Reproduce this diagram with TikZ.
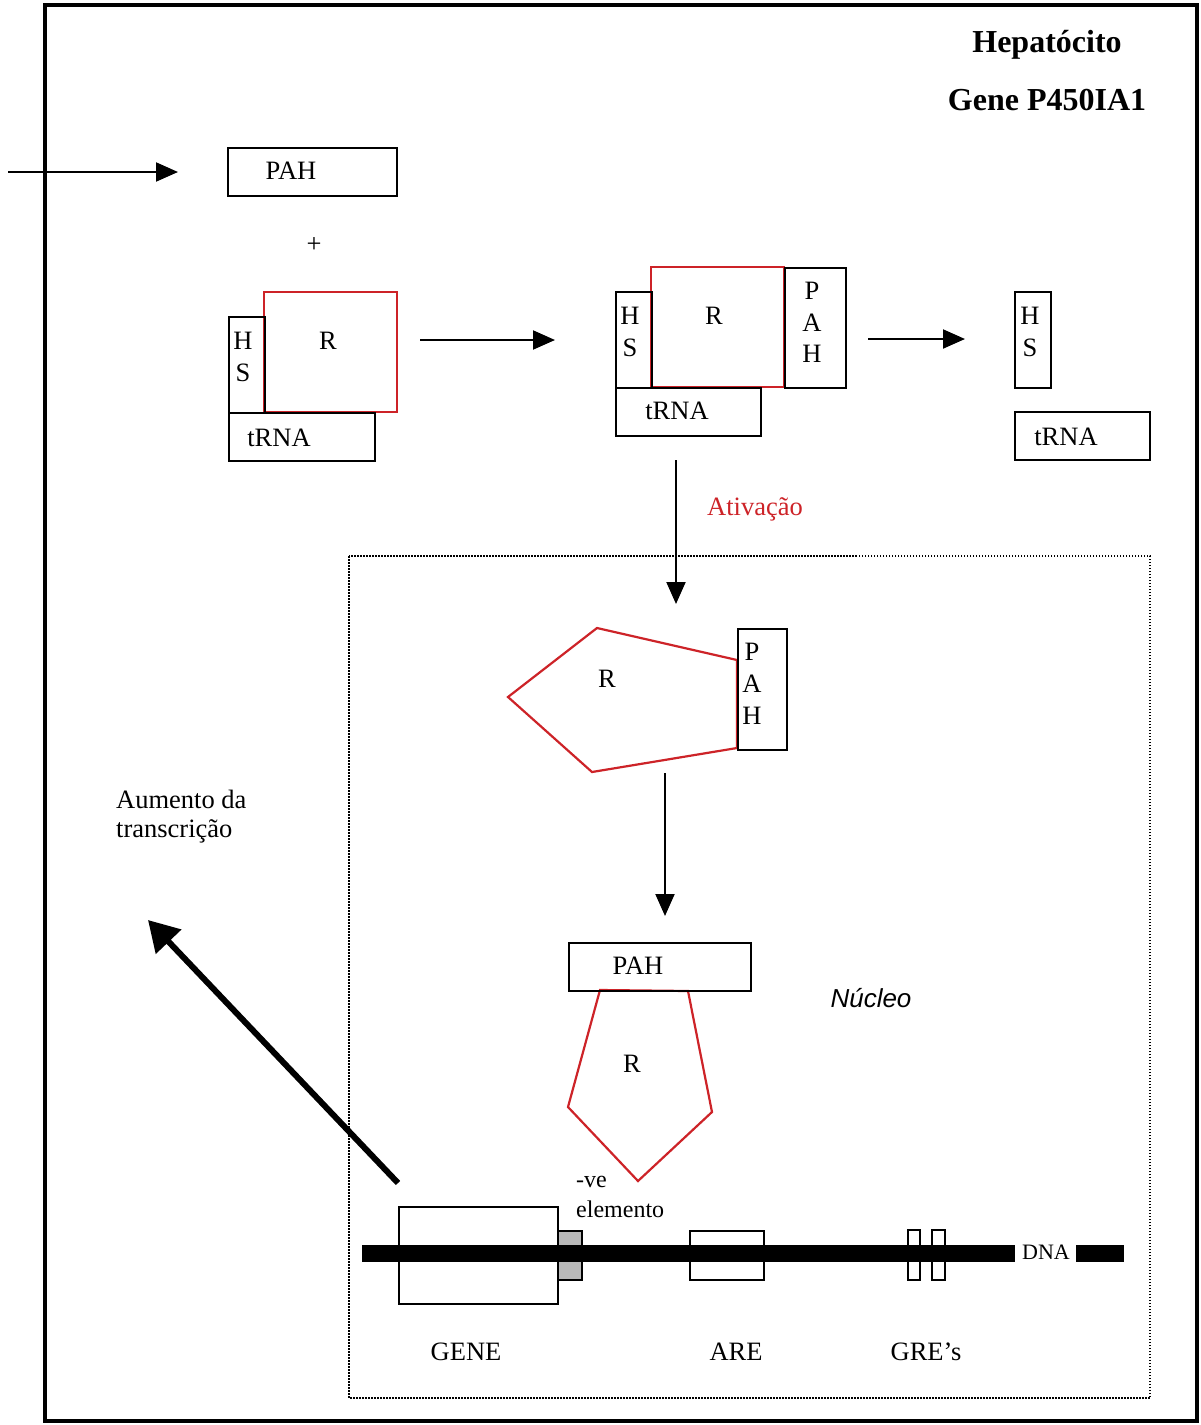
\documentclass[tikz,border=0pt]{standalone}
\usepackage{fontspec}
\setmainfont{Liberation Serif}
\newfontfamily\arialfont{Liberation Sans}
\usetikzlibrary{arrows.meta}
\definecolor{rred}{RGB}{205,35,40}
\begin{document}
\begin{tikzpicture}[x=1pt,y=-1pt,
  box/.style={draw, line width=2pt, inner sep=0pt, anchor=north west},
  txt/.style={inner sep=0pt, font=\fontsize{26.5}{30}\selectfont},
  redpoly/.style={draw=rred, line width=2.2pt, line join=miter},
  flow/.style={line width=2pt, -{Triangle[length=22pt,width=19pt]}},
  bigflow/.style={line width=6pt, -{Triangle[length=30pt,width=34pt]}}]
\useasboundingbox (0,0) rectangle (1201,1425);
% outer frame
\draw[line width=4pt] (45,5) rectangle (1197,1421);
% titles
\node[txt, font=\fontsize{32}{36}\selectfont\bfseries] (t1) at (1047,45) {Hepatócito};
\node[txt, font=\fontsize{32}{36}\selectfont\bfseries] (t2) at (1047,100) {Gene P450IA1};
% incoming PAH
\coordinate (in0) at (8,172);
\node[box, minimum width=169pt, minimum height=48pt] (pah1) at (227,147) {};
\node[txt] (pah1t) at (291,171) {PAH};
\coordinate (in1) at (178,172);
\draw[flow] (in0) -- (in1);
\node[txt] (plus) at (314,245) {+};
% complex 1
\draw[rred, line width=2pt] (264,292) rectangle (397,412);
\node[box, minimum width=36pt, minimum height=96pt] (hs1) at (228,316) {};
\node[txt] at (243,341) {H};
\node[txt] at (243,373) {S};
\node[txt] (r1) at (328,341) {R};
\node[box, minimum width=146pt, minimum height=48pt] (trna1) at (228,412) {};
\node[txt] at (279,438) {tRNA};
\coordinate (a1s) at (420,340);
\coordinate (a1e) at (555,340);
\draw[flow] (a1s) -- (a1e);
% complex 2
\draw[rred, line width=2pt] (651,267) rectangle (784,387);
\node[box, minimum width=36pt, minimum height=96pt] (hs2) at (615,291) {};
\node[txt] at (630,316) {H};
\node[txt] at (630,348) {S};
\node[txt] (r2) at (714,316) {R};
\node[box, minimum width=61pt, minimum height=120pt] (pah2) at (784,267) {};
\node[txt] at (812,291) {P};
\node[txt] at (812,323) {A};
\node[txt] at (812,354) {H};
\node[box, minimum width=145pt, minimum height=48pt] (trna2) at (615,387) {};
\node[txt] at (677,411) {tRNA};
\coordinate (a2s) at (868,339);
\coordinate (a2e) at (965,339);
\draw[flow] (a2s) -- (a2e);
% released
\node[box, minimum width=36pt, minimum height=96pt] (hs3) at (1014,291) {};
\node[txt] at (1030,316) {H};
\node[txt] at (1030,348) {S};
\node[box, minimum width=135pt, minimum height=48pt] (trna3) at (1014,411) {};
\node[txt] at (1066,437) {tRNA};
% activation
\coordinate (a3s) at (676,460);
\coordinate (a3e) at (676,604);
\draw[flow] (a3s) -- (a3e);
\node[txt, text=rred] (ativ) at (755,509) {Ativação};
% nucleus
\draw[line width=1.5pt, dash pattern=on 1.5pt off 1.5pt] (349,556) rectangle (1150,1398);
\node[txt, font=\fontsize{26}{30}\selectfont\arialfont\itshape] (nuc) at (871,998) {Núcleo};
% activated receptor
\draw[redpoly] (597,628) -- (737,660) -- (737,748) -- (592,772) -- (508,697) -- cycle;
\node[txt] (r3) at (607,679) {R};
\node[box, minimum width=49pt, minimum height=121pt] (pah3) at (737,628) {};
\node[txt] at (752,652) {P};
\node[txt] at (752,684) {A};
\node[txt] at (752,716) {H};
\coordinate (a4s) at (665,773);
\coordinate (a4e) at (665,916);
\draw[flow] (a4s) -- (a4e);
% bound receptor
\draw[redpoly] (600,990) -- (688,991) -- (712,1112) -- (638,1181) -- (568,1107) -- cycle;
\node[box, minimum width=182pt, minimum height=48pt] (pah4) at (568,942) {};
\node[txt] at (638,966) {PAH};
\node[txt] (r4) at (632,1064) {R};
\node[txt, font=\fontsize{24}{27}\selectfont, anchor=west] at (576,1182) {-ve};
\node[txt, font=\fontsize{24}{27}\selectfont, anchor=west] at (576,1209) {elemento};
% DNA elements
\node[box, minimum width=159pt, minimum height=97pt] (gene) at (398,1206) {};
\node[box, fill=gray!55, minimum width=24pt, minimum height=49pt] (neg) at (557,1230) {};
\node[box, minimum width=74pt, minimum height=49pt] (are) at (689,1230) {};
\node[box, minimum width=12pt, minimum height=50pt] (gre1) at (907,1229) {};
\node[box, minimum width=13pt, minimum height=50pt] (gre2) at (931,1229) {};
\fill[black] (362,1245) rectangle (1015,1262);
\fill[black] (1076,1245) rectangle (1124,1262);
\node[txt, font=\fontsize{22}{25}\selectfont] (dna) at (1046,1252) {DNA};
\node[txt] at (466,1352) {GENE};
\node[txt] at (736,1352) {ARE};
\node[txt] at (926,1352) {GRE’s};
% increased transcription
\coordinate (b1) at (398,1183);
\coordinate (b2) at (148,920);
\draw[bigflow] (b1) -- (b2);
\node[txt, anchor=west] at (116,799) {Aumento da};
\node[txt, anchor=west] at (116,831) {transcrição};
\end{tikzpicture}
\end{document}
